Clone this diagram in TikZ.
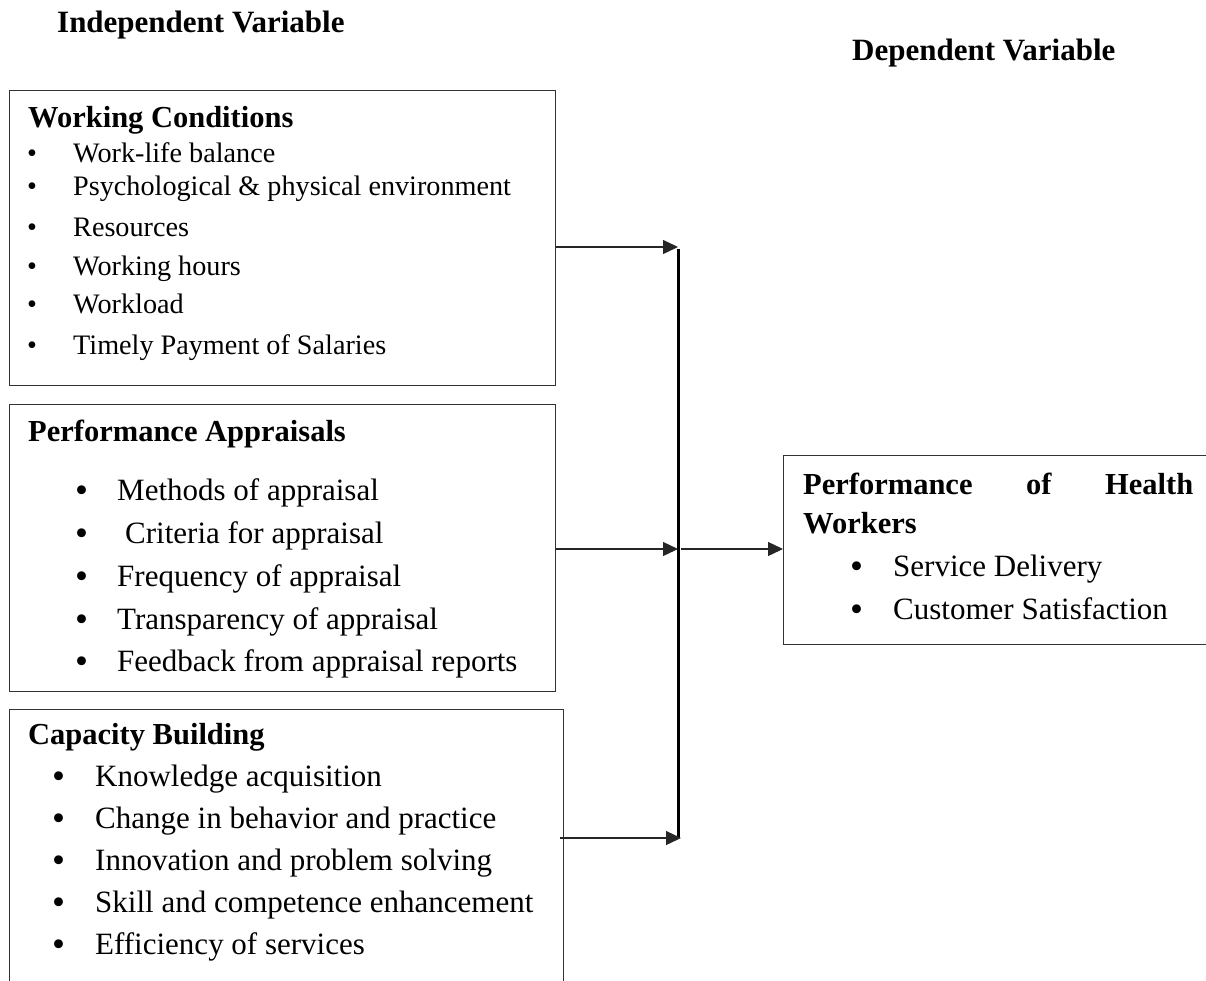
\documentclass[tikz,border=0pt]{standalone}
\usepackage{fontspec}
\setmainfont{Liberation Serif}
\usetikzlibrary{arrows.meta}
\tikzset{
  box/.style={draw=black!80, line width=1.3pt, anchor=north west, inner sep=0pt},
  conn/.style={draw=black!85, line width=1.3pt, -{Triangle[length=15pt,width=14pt]}},
  bar/.style={draw=black, line width=3pt},
  hd/.style={anchor=base west, inner sep=0pt, font=\fontsize{31}{36}\selectfont\bfseries},
  ttl/.style={anchor=base west, inner sep=0pt, font=\fontsize{30.5}{36}\selectfont\bfseries},
  ta/.style={anchor=base west, inner sep=0pt, font=\fontsize{28.2}{34}\selectfont},
  tb/.style={anchor=base west, inner sep=0pt, font=\fontsize{31}{37}\selectfont},
}
% small bullet (same size as the text) and larger bullet
\newcommand\bls[1]{\makebox[#1pt][l]{•}}
\newcommand\bl[1]{\makebox[#1pt][l]{\raisebox{-2pt}{\fontsize{37}{37}\selectfont•}}}
\begin{document}
\begin{tikzpicture}[x=1pt,y=-1pt]
\useasboundingbox (0,0) rectangle (1206,980);

% headings
\node[hd] (hind) at (57,32) {Independent Variable};
\node[hd] (hdep) at (852,60) {Dependent Variable};

% boxes
\node[box, minimum width=546pt, minimum height=295pt] (wc) at (9,90) {};
\node[box, minimum width=546pt, minimum height=287pt] (pa) at (9,404) {};
\node[box, minimum width=554pt, minimum height=300pt] (cb) at (9,709) {};
\node[box, minimum width=432pt, minimum height=189pt] (rb) at (783,455) {};

% Working conditions
\node[ttl] (wct) at (28,127) {Working Conditions};
\node[ta] (wc1) at (27,162) {\bls{46}Work-life balance};
\node[ta] (wc2) at (27,195) {\bls{46}Psychological \& physical environment};
\node[ta] (wc3) at (27,236) {\bls{46}Resources};
\node[ta] (wc4) at (27,275) {\bls{46}Working hours};
\node[ta] (wc5) at (27,313) {\bls{46}Workload};
\node[ta] (wc6) at (27,354) {\bls{46}Timely Payment of Salaries};

% Performance appraisals
\node[ttl] (pat) at (28,441) {Performance Appraisals};
\node[tb] (pa1) at (75,500) {\bl{42}Methods of appraisal};
\node[tb] (pa2) at (75,543) {\bl{42}\hspace{8pt}Criteria for appraisal};
\node[tb] (pa3) at (75,586) {\bl{42}Frequency of appraisal};
\node[tb] (pa4) at (75,629) {\bl{42}Transparency of appraisal};
\node[tb] (pa5) at (75,671) {\bl{42}Feedback from appraisal reports};

% Capacity building
\node[ttl] (cbt) at (28,744) {Capacity Building};
\node[tb] (cb1) at (52,786) {\bl{43}Knowledge acquisition};
\node[tb] (cb2) at (52,828) {\bl{43}Change in behavior and practice};
\node[tb] (cb3) at (52,870) {\bl{43}Innovation and problem solving};
\node[tb] (cb4) at (52,912) {\bl{43}Skill and competence enhancement};
\node[tb] (cb5) at (52,954) {\bl{43}Efficiency of services};

% Dependent box
\node[ttl] (rbt) at (803,494) {\makebox[390pt]{Performance\hfill of\hfill Health}};
\node[ttl] (rbt2) at (803,533) {Workers};
\node[tb] (rb1) at (850,576) {\bl{43}Service Delivery};
\node[tb] (rb2) at (850,619) {\bl{43}Customer Satisfaction};

% connectors
\coordinate (j1) at (678,247);
\coordinate (j2) at (678,549);
\coordinate (j3) at (681,838);
\coordinate (btop) at (678,249);
\coordinate (bbot) at (678,838);
\coordinate (s3) at (560,838);
\coordinate (o2) at (681,549);
\draw[bar] (btop) -- (bbot);
\draw[conn] (wc.east |- j1) -- (j1);
\draw[conn] (pa.east |- j2) -- (j2);
\draw[conn] (s3) -- (j3);
\draw[conn] (o2) -- (rb.west |- o2);
\end{tikzpicture}
\end{document}
